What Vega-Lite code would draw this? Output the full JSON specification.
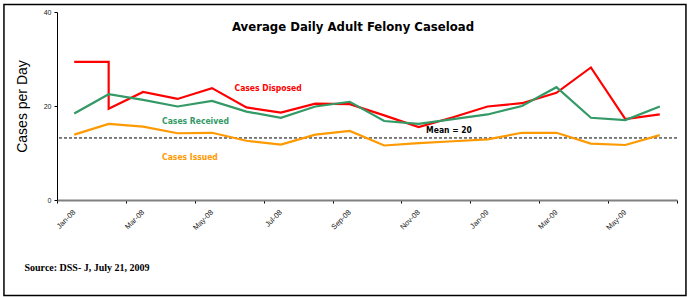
{
  "$schema": "https://vega.github.io/schema/vega-lite/v6.json",
  "width": 620,
  "height": 188,
  "autosize": {"type": "none"},
  "padding": {"left": 57, "top": 12, "right": 12, "bottom": 97},
  "background": "white",
  "config": {"view": {"stroke": null}, "font": "Liberation Sans"},
  "title": {
    "text": "Average Daily Adult Felony Caseload",
    "font": "DejaVu Sans Condensed",
    "fontSize": 13,
    "fontWeight": "bold",
    "color": "black",
    "dy": 34,
    "dx": -14
  },
  "datasets": {
    "series": [
      {"s": "Cases Disposed", "m": 0.5, "o": 0, "v": 29.4},
      {"s": "Cases Disposed", "m": 1.5, "o": 1, "v": 29.4},
      {"s": "Cases Disposed", "m": 1.5, "o": 2, "v": 19.4},
      {"s": "Cases Disposed", "m": 2.5, "o": 3, "v": 23.0},
      {"s": "Cases Disposed", "m": 3.5, "o": 4, "v": 21.5},
      {"s": "Cases Disposed", "m": 4.5, "o": 5, "v": 23.8},
      {"s": "Cases Disposed", "m": 5.5, "o": 6, "v": 19.7},
      {"s": "Cases Disposed", "m": 6.5, "o": 7, "v": 18.6},
      {"s": "Cases Disposed", "m": 7.5, "o": 8, "v": 20.5},
      {"s": "Cases Disposed", "m": 8.5, "o": 9, "v": 20.4},
      {"s": "Cases Disposed", "m": 9.5, "o": 10, "v": 18.0},
      {"s": "Cases Disposed", "m": 10.5, "o": 11, "v": 15.5},
      {"s": "Cases Disposed", "m": 11.5, "o": 12, "v": 17.6},
      {"s": "Cases Disposed", "m": 12.5, "o": 13, "v": 19.9},
      {"s": "Cases Disposed", "m": 13.5, "o": 14, "v": 20.6},
      {"s": "Cases Disposed", "m": 14.5, "o": 15, "v": 22.8},
      {"s": "Cases Disposed", "m": 15.5, "o": 16, "v": 28.2},
      {"s": "Cases Disposed", "m": 16.5, "o": 17, "v": 17.2},
      {"s": "Cases Disposed", "m": 17.5, "o": 18, "v": 18.2},
      {"s": "Cases Received", "m": 0.5, "o": 0, "v": 18.4},
      {"s": "Cases Received", "m": 1.5, "o": 1, "v": 22.5},
      {"s": "Cases Received", "m": 2.5, "o": 2, "v": 21.3},
      {"s": "Cases Received", "m": 3.5, "o": 3, "v": 19.9},
      {"s": "Cases Received", "m": 4.5, "o": 4, "v": 21.1},
      {"s": "Cases Received", "m": 5.5, "o": 5, "v": 18.8},
      {"s": "Cases Received", "m": 6.5, "o": 6, "v": 17.5},
      {"s": "Cases Received", "m": 7.5, "o": 7, "v": 19.9},
      {"s": "Cases Received", "m": 8.5, "o": 8, "v": 20.9},
      {"s": "Cases Received", "m": 9.5, "o": 9, "v": 16.8},
      {"s": "Cases Received", "m": 10.5, "o": 10, "v": 16.2},
      {"s": "Cases Received", "m": 11.5, "o": 11, "v": 17.2},
      {"s": "Cases Received", "m": 12.5, "o": 12, "v": 18.2},
      {"s": "Cases Received", "m": 13.5, "o": 13, "v": 20.0},
      {"s": "Cases Received", "m": 14.5, "o": 14, "v": 24.0},
      {"s": "Cases Received", "m": 15.5, "o": 15, "v": 17.5},
      {"s": "Cases Received", "m": 16.5, "o": 16, "v": 17.0},
      {"s": "Cases Received", "m": 17.5, "o": 17, "v": 19.9},
      {"s": "Cases Issued", "m": 0.5, "o": 0, "v": 13.9},
      {"s": "Cases Issued", "m": 1.5, "o": 1, "v": 16.2},
      {"s": "Cases Issued", "m": 2.5, "o": 2, "v": 15.6},
      {"s": "Cases Issued", "m": 3.5, "o": 3, "v": 14.2},
      {"s": "Cases Issued", "m": 4.5, "o": 4, "v": 14.3},
      {"s": "Cases Issued", "m": 5.5, "o": 5, "v": 12.6},
      {"s": "Cases Issued", "m": 6.5, "o": 6, "v": 11.8},
      {"s": "Cases Issued", "m": 7.5, "o": 7, "v": 13.9},
      {"s": "Cases Issued", "m": 8.5, "o": 8, "v": 14.7},
      {"s": "Cases Issued", "m": 9.5, "o": 9, "v": 11.6},
      {"s": "Cases Issued", "m": 10.5, "o": 10, "v": 12.1},
      {"s": "Cases Issued", "m": 11.5, "o": 11, "v": 12.5},
      {"s": "Cases Issued", "m": 12.5, "o": 12, "v": 12.9},
      {"s": "Cases Issued", "m": 13.5, "o": 13, "v": 14.3},
      {"s": "Cases Issued", "m": 14.5, "o": 14, "v": 14.3},
      {"s": "Cases Issued", "m": 15.5, "o": 15, "v": 12.0},
      {"s": "Cases Issued", "m": 16.5, "o": 16, "v": 11.7},
      {"s": "Cases Issued", "m": 17.5, "o": 17, "v": 13.8}
    ],
    "labels": [
      {"s": "Cases Disposed", "m": 6.13, "v": 23.8},
      {"s": "Cases Received", "m": 4.02, "v": 16.9},
      {"s": "Cases Issued", "m": 3.86, "v": 9.2}
    ],
    "one": [{"k": 1}]
  },
  "layer": [
    {
      "data": {"name": "one"},
      "mark": {"type": "rect", "fillOpacity": 0, "stroke": "black", "strokeWidth": 1.5},
      "encoding": {
        "x": {"datum": -1.54, "type": "quantitative"},
        "x2": {"datum": 18.26},
        "y": {"datum": 41.6, "type": "quantitative"},
        "y2": {"datum": -20.3}
      }
    },
    {
      "data": {"name": "one"},
      "mark": {"type": "rule", "strokeDash": [3, 2], "color": "black", "strokeWidth": 1},
      "encoding": {"y": {"datum": 13.2, "type": "quantitative"}}
    },
    {
      "data": {"name": "series"},
      "mark": {"type": "line", "strokeWidth": 2.2},
      "encoding": {
        "x": {
          "field": "m",
          "type": "quantitative",
          "scale": {"domain": [0, 18], "nice": false, "zero": false},
          "axis": {
            "values": [0, 2, 4, 6, 8, 10, 12, 14, 16, 18],
            "labelExpr": "['Jan-08','Mar-08','May-08','Jul-08','Sep-08','Nov-08','Jan-09','Mar-09','May-09',''][datum.value/2]",
            "labelAngle": -45,
            "labelAlign": "right",
            "labelBaseline": "middle",
            "labelOffset": 17,
            "labelFontSize": 7.5,
            "labelColor": "#222222",
            "labelPadding": 8,
            "tickSize": 3,
            "tickColor": "black",
            "domainColor": "#808080",
            "domainWidth": 2,
            "grid": false,
            "title": "Source: DSS- J,  July 21, 2009",
            "titleFont": "Liberation Serif",
            "titleFontSize": 10,
            "titleFontWeight": "bold",
            "titleColor": "black",
            "titleAnchor": "start",
            "titleAlign": "left",
            "titleBaseline": "middle",
            "titleX": -33,
            "titleY": 67
          }
        },
        "y": {
          "field": "v",
          "type": "quantitative",
          "scale": {"domain": [0, 40], "nice": false},
          "axis": {
            "values": [0, 20, 40],
            "labelFontSize": 7,
            "labelColor": "#222222",
            "labelPadding": 3,
            "tickSize": 3,
            "tickColor": "black",
            "domainColor": "black",
            "domainWidth": 1,
            "grid": false,
            "title": "Cases per Day",
            "titleFontSize": 14,
            "titleFontWeight": "normal",
            "titleColor": "black",
            "titlePadding": 14
          }
        },
        "color": {
          "field": "s",
          "type": "nominal",
          "scale": {"domain": ["Cases Disposed", "Cases Received", "Cases Issued"], "range": ["#FF0000", "#339966", "#FF9900"]},
          "legend": null
        },
        "order": {"field": "o", "type": "quantitative"}
      }
    },
    {
      "data": {"name": "labels"},
      "mark": {"type": "text", "font": "DejaVu Sans Condensed", "fontSize": 8.5, "fontWeight": "bold"},
      "encoding": {
        "x": {"field": "m", "type": "quantitative"},
        "y": {"field": "v", "type": "quantitative"},
        "text": {"field": "s"},
        "color": {"field": "s", "type": "nominal", "legend": null}
      }
    },
    {
      "data": {"name": "one"},
      "mark": {"type": "text", "font": "DejaVu Sans Condensed", "fontSize": 8.5, "fontWeight": "bold", "color": "black", "text": "Mean = 20"},
      "encoding": {
        "x": {"datum": 11.38, "type": "quantitative"},
        "y": {"datum": 14.9, "type": "quantitative"}
      }
    }
  ]
}
